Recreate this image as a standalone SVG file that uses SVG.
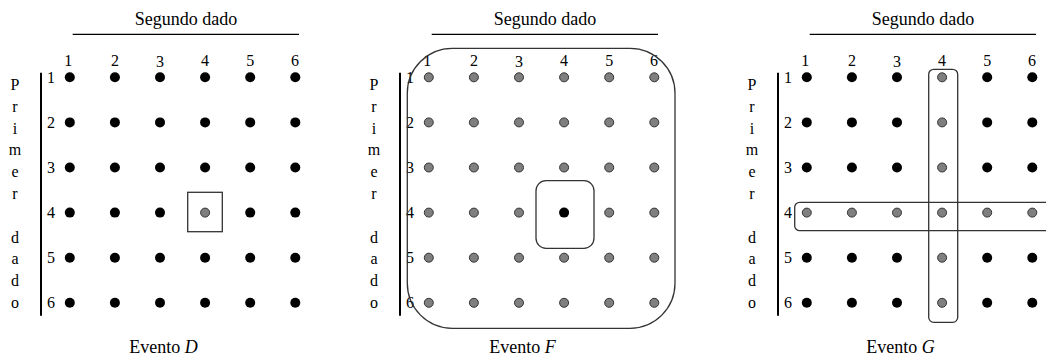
<svg xmlns="http://www.w3.org/2000/svg" width="1046" height="358" viewBox="0 0 1046 358">
<style>
text{font-family:"Liberation Serif","Times New Roman",serif;fill:#000}
.t{font-size:18px;text-anchor:middle}
.n{font-size:16px;text-anchor:middle}
.l{font-size:16px;text-anchor:middle}
.b{fill:#000}
.g{fill:#7f7f7f;stroke:#333;stroke-width:1}
.ln{stroke:#000;stroke-width:1.2;fill:none}
.ax{stroke:#000;stroke-width:2;fill:none}
.box{fill:none;stroke:#333;stroke-width:1.3}
</style>
<defs>
<g id="frame">
<text class="t" x="186" y="25">Segundo dado</text>
<line class="ln" x1="72.7" y1="34.3" x2="299" y2="34.3"/>
<line class="ax" x1="41" y1="72.7" x2="41" y2="315.7"/>
<text class="n" x="68.3" y="65.7">1</text>
<text class="n" x="114.9" y="65.7">2</text>
<text class="n" x="160" y="66.7">3</text>
<text class="n" x="205.1" y="65.7">4</text>
<text class="n" x="250.2" y="65.7">5</text>
<text class="n" x="295" y="65.7">6</text>
<text class="n" x="51" y="82.6">1</text>
<text class="n" x="51" y="127.7">2</text>
<text class="n" x="51" y="172.8">3</text>
<text class="n" x="51" y="217.9">4</text>
<text class="n" x="51" y="263">5</text>
<text class="n" x="51" y="308.1">6</text>
<text class="l" x="15" y="90">P</text>
<text class="l" x="15" y="111.8">r</text>
<text class="l" x="15" y="133.6">i</text>
<text class="l" x="15" y="155.4">m</text>
<text class="l" x="15" y="177.2">e</text>
<text class="l" x="15" y="199">r</text>
<text class="l" x="15" y="242.6">d</text>
<text class="l" x="15" y="264.4">a</text>
<text class="l" x="15" y="286.2">d</text>
<text class="l" x="15" y="308">o</text>
</g>
</defs>

<g id="eventoD">
<use href="#frame"/>
<g id="dotsD">
<circle class="b" cx="69.8" cy="77.3" r="5"/><circle class="b" cx="114.9" cy="77.3" r="5"/><circle class="b" cx="160" cy="77.3" r="5"/><circle class="b" cx="205.1" cy="77.3" r="5"/><circle class="b" cx="250.2" cy="77.3" r="5"/><circle class="b" cx="295.3" cy="77.3" r="5"/>
<circle class="b" cx="69.8" cy="122.4" r="5"/><circle class="b" cx="114.9" cy="122.4" r="5"/><circle class="b" cx="160" cy="122.4" r="5"/><circle class="b" cx="205.1" cy="122.4" r="5"/><circle class="b" cx="250.2" cy="122.4" r="5"/><circle class="b" cx="295.3" cy="122.4" r="5"/>
<circle class="b" cx="69.8" cy="167.5" r="5"/><circle class="b" cx="114.9" cy="167.5" r="5"/><circle class="b" cx="160" cy="167.5" r="5"/><circle class="b" cx="205.1" cy="167.5" r="5"/><circle class="b" cx="250.2" cy="167.5" r="5"/><circle class="b" cx="295.3" cy="167.5" r="5"/>
<circle class="b" cx="69.8" cy="212.6" r="5"/><circle class="b" cx="114.9" cy="212.6" r="5"/><circle class="b" cx="160" cy="212.6" r="5"/><circle class="g" cx="205.1" cy="212.6" r="4.5"/><circle class="b" cx="250.2" cy="212.6" r="5"/><circle class="b" cx="295.3" cy="212.6" r="5"/>
<circle class="b" cx="69.8" cy="257.7" r="5"/><circle class="b" cx="114.9" cy="257.7" r="5"/><circle class="b" cx="160" cy="257.7" r="5"/><circle class="b" cx="205.1" cy="257.7" r="5"/><circle class="b" cx="250.2" cy="257.7" r="5"/><circle class="b" cx="295.3" cy="257.7" r="5"/>
<circle class="b" cx="69.8" cy="302.8" r="5"/><circle class="b" cx="114.9" cy="302.8" r="5"/><circle class="b" cx="160" cy="302.8" r="5"/><circle class="b" cx="205.1" cy="302.8" r="5"/><circle class="b" cx="250.2" cy="302.8" r="5"/><circle class="b" cx="295.3" cy="302.8" r="5"/>
</g>
<rect class="box" x="187.7" y="192.3" width="34.6" height="39.4"/>
<text class="t" x="163.5" y="353">Evento <tspan font-style="italic">D</tspan></text>
</g>

<g id="eventoF" transform="translate(359,0)">
<use href="#frame"/>
<g id="dotsF">
<circle class="g" cx="69.8" cy="77.3" r="4.5"/><circle class="g" cx="114.9" cy="77.3" r="4.5"/><circle class="g" cx="160" cy="77.3" r="4.5"/><circle class="g" cx="205.1" cy="77.3" r="4.5"/><circle class="g" cx="250.2" cy="77.3" r="4.5"/><circle class="g" cx="295.3" cy="77.3" r="4.5"/>
<circle class="g" cx="69.8" cy="122.4" r="4.5"/><circle class="g" cx="114.9" cy="122.4" r="4.5"/><circle class="g" cx="160" cy="122.4" r="4.5"/><circle class="g" cx="205.1" cy="122.4" r="4.5"/><circle class="g" cx="250.2" cy="122.4" r="4.5"/><circle class="g" cx="295.3" cy="122.4" r="4.5"/>
<circle class="g" cx="69.8" cy="167.5" r="4.5"/><circle class="g" cx="114.9" cy="167.5" r="4.5"/><circle class="g" cx="160" cy="167.5" r="4.5"/><circle class="g" cx="205.1" cy="167.5" r="4.5"/><circle class="g" cx="250.2" cy="167.5" r="4.5"/><circle class="g" cx="295.3" cy="167.5" r="4.5"/>
<circle class="g" cx="69.8" cy="212.6" r="4.5"/><circle class="g" cx="114.9" cy="212.6" r="4.5"/><circle class="g" cx="160" cy="212.6" r="4.5"/><circle class="b" cx="205.1" cy="212.6" r="5"/><circle class="g" cx="250.2" cy="212.6" r="4.5"/><circle class="g" cx="295.3" cy="212.6" r="4.5"/>
<circle class="g" cx="69.8" cy="257.7" r="4.5"/><circle class="g" cx="114.9" cy="257.7" r="4.5"/><circle class="g" cx="160" cy="257.7" r="4.5"/><circle class="g" cx="205.1" cy="257.7" r="4.5"/><circle class="g" cx="250.2" cy="257.7" r="4.5"/><circle class="g" cx="295.3" cy="257.7" r="4.5"/>
<circle class="g" cx="69.8" cy="302.8" r="4.5"/><circle class="g" cx="114.9" cy="302.8" r="4.5"/><circle class="g" cx="160" cy="302.8" r="4.5"/><circle class="g" cx="205.1" cy="302.8" r="4.5"/><circle class="g" cx="250.2" cy="302.8" r="4.5"/><circle class="g" cx="295.3" cy="302.8" r="4.5"/>
</g>
<rect class="box" x="48.3" y="48.3" width="267.7" height="280" rx="45" ry="45"/>
<rect class="box" x="177" y="180.7" width="58" height="67.6" rx="10" ry="10"/>
<text class="t" x="163.5" y="353">Evento <tspan font-style="italic">F</tspan></text>
</g>

<g id="eventoG" transform="translate(737,0)">
<use href="#frame"/>
<g id="dotsG">
<circle class="b" cx="69.8" cy="77.3" r="5"/><circle class="b" cx="114.9" cy="77.3" r="5"/><circle class="b" cx="160" cy="77.3" r="5"/><circle class="g" cx="205.1" cy="77.3" r="4.5"/><circle class="b" cx="250.2" cy="77.3" r="5"/><circle class="b" cx="295.3" cy="77.3" r="5"/>
<circle class="b" cx="69.8" cy="122.4" r="5"/><circle class="b" cx="114.9" cy="122.4" r="5"/><circle class="b" cx="160" cy="122.4" r="5"/><circle class="g" cx="205.1" cy="122.4" r="4.5"/><circle class="b" cx="250.2" cy="122.4" r="5"/><circle class="b" cx="295.3" cy="122.4" r="5"/>
<circle class="b" cx="69.8" cy="167.5" r="5"/><circle class="b" cx="114.9" cy="167.5" r="5"/><circle class="b" cx="160" cy="167.5" r="5"/><circle class="g" cx="205.1" cy="167.5" r="4.5"/><circle class="b" cx="250.2" cy="167.5" r="5"/><circle class="b" cx="295.3" cy="167.5" r="5"/>
<circle class="g" cx="69.8" cy="212.6" r="4.5"/><circle class="g" cx="114.9" cy="212.6" r="4.5"/><circle class="g" cx="160" cy="212.6" r="4.5"/><circle class="g" cx="205.1" cy="212.6" r="4.5"/><circle class="g" cx="250.2" cy="212.6" r="4.5"/><circle class="g" cx="295.3" cy="212.6" r="4.5"/>
<circle class="b" cx="69.8" cy="257.7" r="5"/><circle class="b" cx="114.9" cy="257.7" r="5"/><circle class="b" cx="160" cy="257.7" r="5"/><circle class="g" cx="205.1" cy="257.7" r="4.5"/><circle class="b" cx="250.2" cy="257.7" r="5"/><circle class="b" cx="295.3" cy="257.7" r="5"/>
<circle class="b" cx="69.8" cy="302.8" r="5"/><circle class="b" cx="114.9" cy="302.8" r="5"/><circle class="b" cx="160" cy="302.8" r="5"/><circle class="g" cx="205.1" cy="302.8" r="4.5"/><circle class="b" cx="250.2" cy="302.8" r="5"/><circle class="b" cx="295.3" cy="302.8" r="5"/>
</g>
<rect class="box" x="191.7" y="69.3" width="29" height="253" rx="5" ry="5"/>
<rect class="box" x="57.7" y="202.3" width="280" height="28.4" rx="5" ry="5"/>
<text class="t" x="163.5" y="353">Evento <tspan font-style="italic">G</tspan></text>
</g>
</svg>
